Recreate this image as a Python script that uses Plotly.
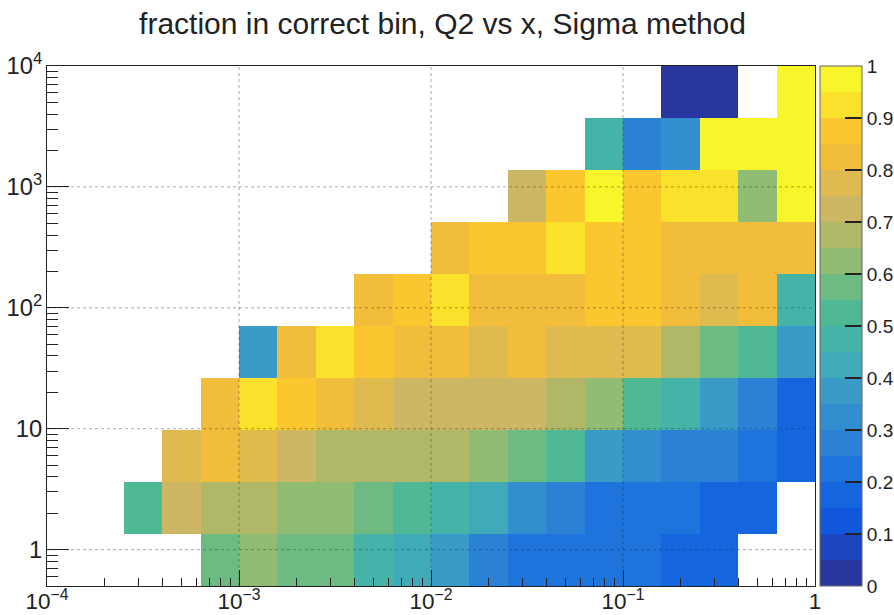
import numpy as np
import plotly.graph_objects as go

# ---- data (fraction in correct bin), rows = Q2 bins (low -> high), cols = x bins (low -> high)
x_log_lo, x_log_hi, n_xbins = -4.0, 0.0, 20
y_lo, y_hi, n_ybins = 0.5, 1.0e4, 10

N = None
row_q0 = [N, N, N, N, 0.57, 0.62, 0.57, 0.57, 0.48, 0.43, 0.37, 0.27, 0.22, 0.22, 0.22, 0.22, 0.17, 0.17, N, N]
row_q1 = [N, N, 0.52, 0.72, 0.67, 0.67, 0.62, 0.62, 0.57, 0.52, 0.48, 0.42, 0.32, 0.27, 0.22, 0.22, 0.22, 0.17, 0.17, N]
row_q2 = [N, N, N, 0.77, 0.82, 0.77, 0.72, 0.67, 0.67, 0.67, 0.67, 0.62, 0.57, 0.52, 0.37, 0.32, 0.27, 0.27, 0.22, 0.17]
row_q3 = [N, N, N, N, 0.82, 0.92, 0.87, 0.82, 0.77, 0.72, 0.72, 0.72, 0.72, 0.67, 0.62, 0.52, 0.47, 0.37, 0.27, 0.17]
row_q4 = [N, N, N, N, N, 0.37, 0.82, 0.92, 0.87, 0.82, 0.82, 0.77, 0.82, 0.77, 0.77, 0.77, 0.67, 0.57, 0.50, 0.37]
row_q5 = [N, N, N, N, N, N, N, N, 0.82, 0.87, 0.92, 0.82, 0.82, 0.82, 0.87, 0.87, 0.82, 0.77, 0.82, 0.47]
row_q6 = [N, N, N, N, N, N, N, N, N, N, 0.82, 0.87, 0.87, 0.92, 0.87, 0.87, 0.82, 0.82, 0.82, 0.82]
row_q7 = [N, N, N, N, N, N, N, N, N, N, N, N, 0.72, 0.87, 0.98, 0.87, 0.92, 0.92, 0.62, 0.98]
row_q8 = [N, N, N, N, N, N, N, N, N, N, N, N, N, N, 0.47, 0.27, 0.32, 0.98, 0.98, 0.98]
row_q9 = [N, N, N, N, N, N, N, N, N, N, N, N, N, N, N, N, 0.03, 0.03, N, 0.98]
z_rows = [row_q0, row_q1, row_q2, row_q3, row_q4, row_q5, row_q6, row_q7, row_q8, row_q9]

x_edges = np.logspace(x_log_lo, x_log_hi, n_xbins + 1)
y_edges = np.logspace(np.log10(y_lo), np.log10(y_hi), n_ybins + 1)

cb_tickvals = [0, 0.1, 0.2, 0.3, 0.4, 0.5, 0.6, 0.7, 0.8, 0.9, 1.0]
cb_ticktext = ["0", "0.1", "0.2", "0.3", "0.4", "0.5", "0.6", "0.7", "0.8", "0.9", "1"]
grid_x = [1e-3, 1e-2, 1e-1]
grid_y = [1, 10, 100, 1000]

# ---- palette: 20 discrete contour colours (low -> high), as seen in the colour bar
band_colors = [
    "#27379f", "#1c45c0", "#1158dc", "#1565df", "#1f73dc",
    "#2b82d5", "#338ed0", "#3a9bc9", "#40aab8", "#45b3a8",
    "#4fb894", "#6dbb82", "#90bc74", "#b0b868", "#cdb765",
    "#dfba4e", "#f2bd3a", "#fbc62e", "#fbe02c", "#f8f52a",
]
ncont = len(band_colors)
colorscale = []
for i, c in enumerate(band_colors):
    colorscale.append([i / ncont, c])
    colorscale.append([(i + 1) / ncont, c])

FONT = "Liberation Sans, Arial, Helvetica, sans-serif"

fig = go.Figure()
fig.add_trace(go.Heatmap(
    x=x_edges, y=y_edges, z=z_rows,
    zmin=0, zmax=1, colorscale=colorscale, hoverongaps=False,
    colorbar=dict(
        x=1.0065, xanchor="left", xpad=0, ypad=0, y=0.5, yanchor="middle",
        len=1, lenmode="fraction", thickness=42,
        outlinewidth=1, outlinecolor="#666",
        tickmode="array", tickvals=cb_tickvals, ticktext=cb_ticktext,
        ticks="inside", ticklen=17, tickwidth=1.5, tickcolor="#222",
        tickfont=dict(family=FONT, size=19, color="#222"),
    ),
))

# grid lines (ROOT draws the dotted grid above the cells)
gx, gy = [], []
for v in grid_x:
    gx += [v, v, None]
    gy += [y_lo, y_hi, None]
for v in grid_y:
    gx += [10 ** x_log_lo, 10 ** x_log_hi, None]
    gy += [v, v, None]
fig.add_trace(go.Scatter(x=gx, y=gy, mode="lines", hoverinfo="skip", showlegend=False,
                         line=dict(color="rgba(40,40,40,0.4)", width=1, dash="dot")))

axis_common = dict(
    type="log", showgrid=False, zeroline=False,
    showline=True, linecolor="#222", linewidth=1, mirror=True,
    ticks="inside", tickcolor="#222", tickwidth=1.2,
    tickmode="linear", tick0=0, dtick=1, exponentformat="power",
    layer="above traces",
)
fig.update_xaxes(**axis_common, range=[x_log_lo, x_log_hi], ticklen=16,
                 tickfont=dict(family=FONT, size=18, color="#222"),
                 ticklabelstandoff=-4,
                 minor=dict(ticks="inside", ticklen=8, tickcolor="#222", dtick="D1", showgrid=False))
fig.update_yaxes(**axis_common, range=[np.log10(y_lo), np.log10(y_hi)], ticklen=22,
                 tickfont=dict(family=FONT, size=19, color="#222"),
                 minor=dict(ticks="inside", ticklen=11, tickcolor="#222", dtick="D1", showgrid=False))

fig.update_layout(
    width=894, height=615,
    margin=dict(l=47, r=79, t=66, b=29, autoexpand=False),
    paper_bgcolor="white", plot_bgcolor="white",
    showlegend=False,
    title=dict(text="fraction in correct bin, Q2 vs x, Sigma method",
               font=dict(family=FONT, size=30, color="#222"),
               x=0.495, xref="container", xanchor="center",
               y=1 - 23 / 615, yref="container", yanchor="middle"),
)

fig.write_html("out.html")
